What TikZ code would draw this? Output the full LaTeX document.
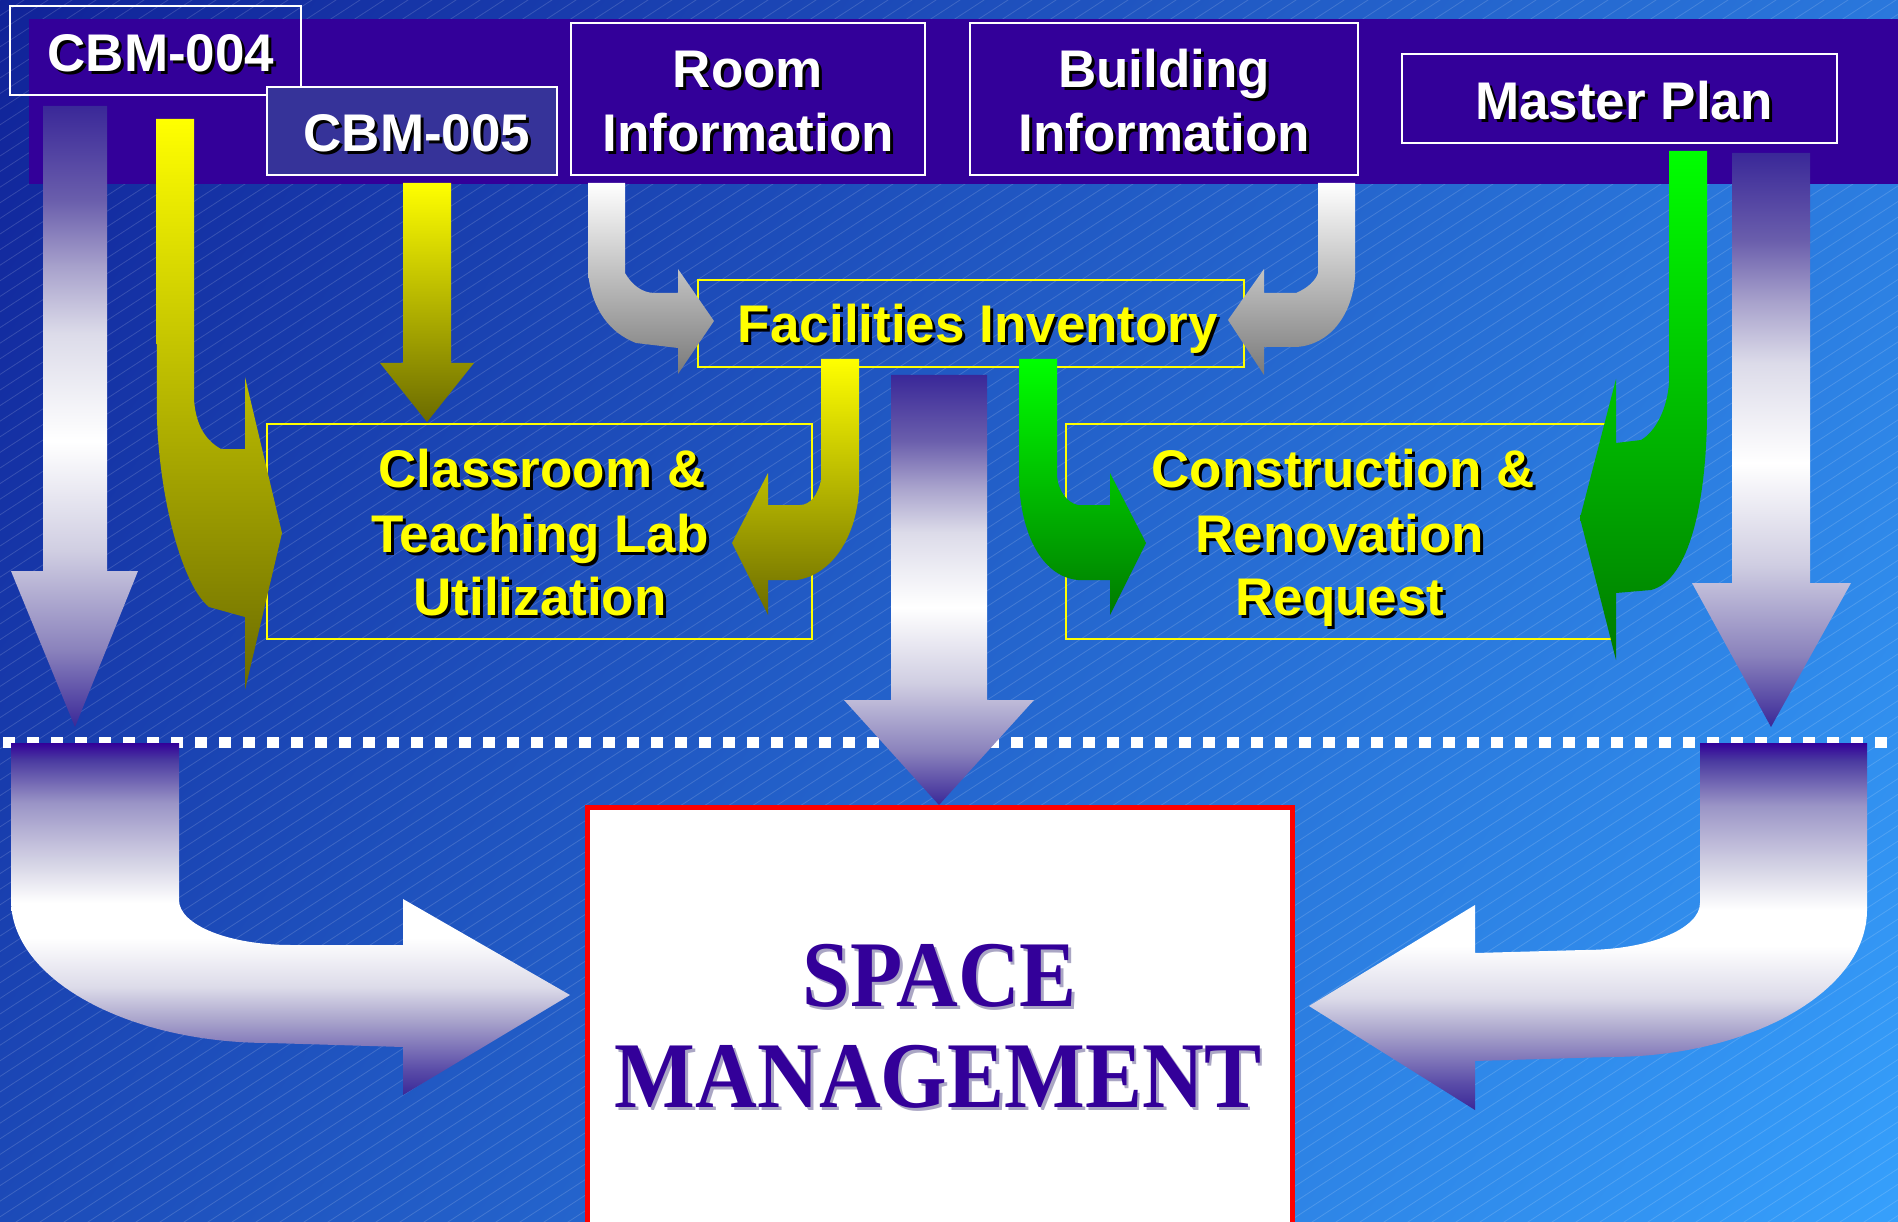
\documentclass[tikz,border=0pt]{standalone}
\usepackage{fontspec}
\setmainfont{Liberation Sans}
\newfontfamily\spacefont{Liberation Serif}
\definecolor{band}{RGB}{51,0,153}
\definecolor{cbmfive}{RGB}{54,51,153}
\definecolor{bgA}{RGB}{16,34,152}
\definecolor{bgB}{RGB}{54,160,252}
\definecolor{ylw}{RGB}{255,255,0}
\definecolor{olv}{RGB}{107,107,0}
\definecolor{grn}{RGB}{0,255,0}
\definecolor{dgrn}{RGB}{0,122,0}
\definecolor{gry}{RGB}{122,122,122}
\definecolor{spc}{RGB}{51,0,153}
\definecolor{sshadow}{RGB}{170,166,196}
\definecolor{pa}{RGB}{58,40,152}
\definecolor{pb}{RGB}{90,76,168}
\definecolor{pc}{RGB}{138,130,188}
\definecolor{pd}{RGB}{170,165,204}
\definecolor{pe}{RGB}{208,206,226}
\definecolor{pf}{RGB}{220,219,233}
\definecolor{pg}{RGB}{154,148,198}
\definecolor{ph}{RGB}{168,162,204}
\definecolor{pi}{RGB}{106,94,172}
\definecolor{pj}{RGB}{74,58,160}
\pgfdeclareverticalshading{varr}{100bp}{color(0bp)=(pa); color(25bp)=(pa); color(31.2bp)=(pc); color(39.2bp)=(pe); color(48bp)=(white); color(56.7bp)=(pf); color(62bp)=(ph); color(67.4bp)=(pi); color(75bp)=(pa); color(100bp)=(pa)}
\pgfdeclareverticalshading{varc}{100bp}{color(0bp)=(pa); color(25bp)=(pa); color(28.6bp)=(pb); color(35.7bp)=(pd); color(40.3bp)=(pf); color(47.4bp)=(white); color(52.3bp)=(white); color(57bp)=(pf); color(66.5bp)=(pg); color(72.6bp)=(pj); color(75bp)=(band); color(100bp)=(band)}
\newcommand{\shd}[2]{\makebox[0pt][l]{\hspace*{3pt}\raisebox{-3pt}{\textcolor{#1}{#2}}}#2}
\begin{document}
\begin{tikzpicture}[x=1pt,y=-1pt,
  wbox/.style={draw=white, line width=2.2pt, inner sep=0pt},
  ybox/.style={draw=ylw, line width=2pt, inner sep=0pt},
  lbl/.style={inner sep=0pt, anchor=base, font=\bfseries\fontsize{53}{64}\selectfont},
  wlbl/.style={lbl, text=white},
  ylbl/.style={lbl, text=ylw},
  slbl/.style={inner sep=0pt, anchor=base, text=spc, font=\spacefont\bfseries\fontsize{94}{100}\selectfont}]
\useasboundingbox (0,0) rectangle (1898,1222);
% background
\begin{scope}
\clip (0,0) rectangle (1898,1222);
\shade[top color=bgA, bottom color=bgB, shading angle=54] (-180,-518) rectangle (2078,1740);
\foreach \c in {0,15.6,...,2500} \draw[white, opacity=0.15, line width=0.8pt] (-50,\c+32.5) -- (1950,\c-1267.5);
\end{scope}
% top band
\fill[band] (29,19) rectangle (1898,184);
% boxes
\node[wbox, minimum width=291pt, minimum height=89pt] (cbm4) at (155.5,50.5) {};
\node[wbox, fill=cbmfive, minimum width=290pt, minimum height=88pt] (cbm5) at (412,131) {};
\node[wbox, minimum width=354pt, minimum height=152pt] (room) at (748,99) {};
\node[wbox, minimum width=388pt, minimum height=152pt] (bldg) at (1164,99) {};
\node[wbox, minimum width=435pt, minimum height=89pt] (mplan) at (1619.5,98.5) {};
\node[ybox, minimum width=546pt, minimum height=87pt] (finv) at (971,323.5) {};
\node[ybox, minimum width=545pt, minimum height=215pt] (class) at (539.5,531.5) {};
\node[ybox, minimum width=545pt, minimum height=215pt] (const) at (1338.5,531.5) {};
\node[draw=red, fill=white, line width=5pt, inner sep=0pt, minimum width=704.5pt, minimum height=432.5pt] (space) at (939.75,1023.75) {};
% labels
\node[wlbl] (t1) at (161,72) {\shd{black}{CBM-004}};
\node[wlbl] (t2) at (417,152) {\shd{black}{CBM-005}};
\node[wlbl] (t3) at (748,88) {\shd{black}{Room}};
\node[wlbl] (t4) at (748,152) {\shd{black}{Information}};
\node[wlbl] (t5) at (1164,88) {\shd{black}{Building}};
\node[wlbl] (t6) at (1164,152) {\shd{black}{Information}};
\node[wlbl] (t7) at (1624,120) {\shd{black}{Master Plan}};
\node[ylbl] (t8) at (978,343) {\shd{black}{Facilities Inventory}};
\node[ylbl] (t9) at (542,487) {\shd{black}{Classroom \&}};
\node[ylbl] (t10) at (540,552) {\shd{black}{Teaching Lab}};
\node[ylbl] (t11) at (540,615) {\shd{black}{Utilization}};
\node[ylbl] (t12) at (1343,487) {\shd{black}{Construction \&}};
\node[ylbl] (t13) at (1340,552) {\shd{black}{Renovation}};
\node[ylbl] (t14) at (1340,615) {\shd{black}{Request}};
\node[slbl] (t15) at (940,1006) {\scalebox{0.91}[1]{\shd{sshadow}{SPACE}}};
\node[slbl] (t16) at (938,1107) {\scalebox{0.91}[1]{\shd{sshadow}{MANAGEMENT}}};
% dashed separator
\coordinate (dl) at (3,742.5);
\coordinate (dr) at (1898,742.5);
\draw[white, line width=11pt, dash pattern=on 12pt off 12pt] (dl) -- (dr);
% straight purple arrows
\shade[shading=varr] (43,106) -- (107,106) -- (107,571) -- (138,571) -- (75,727) -- (11,571) -- (43,571) -- cycle;
\shade[shading=varr] (1732,153) -- (1810,153) -- (1810,583) -- (1851,583) -- (1771,727) -- (1692,583) -- (1732,583) -- cycle;
\shade[shading=varr] (891,375) -- (987,375) -- (987,700) -- (1034,700) -- (939,805) -- (844,700) -- (891,700) -- cycle;
% yellow arrows
\shade[top color=ylw, bottom color=olv] (403,183) -- (451,183) -- (451,363) -- (474,363) -- (427,422) -- (380,363) -- (403,363) -- cycle;
\shade[top color=ylw, middle color=ylw!80!olv, bottom color=olv] (156,119) -- (157,420) .. controls (160,500) and (182,585) .. (209,607) -- (245,617) -- (245,690) -- (282,533) -- (245,377) -- (245,449) -- (221,449) .. controls (205,440) and (196,425) .. (194,400) -- (194,119) -- cycle;
\shade[top color=ylw, bottom color=olv] (821,359) -- (821,480) .. controls (818,495) and (810,505) .. (800,505) -- (768,505) -- (768,473) -- (732,543) -- (768,615) -- (768,580) -- (797,580) .. controls (830,575) and (856,540) .. (859,490) -- (859,359) -- cycle;
% green arrows
\shade[top color=grn, bottom color=dgrn] (1019,359) -- (1019,483) .. controls (1022,540) and (1045,577) .. (1078,580) -- (1110,580) -- (1110,615) -- (1146,543) -- (1110,473) -- (1110,505) -- (1078,505) .. controls (1068,503) and (1058,492) .. (1057,475) -- (1057,359) -- cycle;
\shade[top color=grn, bottom color=dgrn] (1669,151) -- (1669,383) .. controls (1667,410) and (1655,432) .. (1641,440) -- (1616,443) -- (1616,379) -- (1580,518) -- (1616,660) -- (1616,593) -- (1651,590) .. controls (1690,580) and (1706,500) .. (1707,417) -- (1707,151) -- cycle;
% gray arrows
\shade[top color=white, bottom color=gry] (588,183) -- (625,183) -- (625,273) .. controls (632,285) and (642,293) .. (655,293) -- (678,293) -- (678,269) -- (714,321) -- (678,374) -- (678,348) -- (636,343) .. controls (610,333) and (592,310) .. (588,273) -- cycle;
\shade[top color=white, bottom color=gry] (1318,183) -- (1355,183) -- (1355,277) .. controls (1352,315) and (1330,345) .. (1296,347) -- (1264,347) -- (1264,375) -- (1228,320) -- (1264,269) -- (1264,293) -- (1296,293) .. controls (1308,288) and (1316,280) .. (1318,273) -- cycle;
% lower curved arrows
\shade[shading=varc] (11,743) -- (179,743) -- (179,900) .. controls (179,925) and (229,945) .. (291,945) -- (403,945) -- (403,899) -- (570,995) -- (403,1095) -- (403,1047) -- (270,1043) .. controls (127,1043) and (11,979) .. (11,900) -- cycle;
\shade[shading=varc] (1700,743) -- (1867,743) -- (1867,910) .. controls (1867,991) and (1751,1057) .. (1609,1057) -- (1475,1061) -- (1475,1110) -- (1309,1006) -- (1475,905) -- (1475,953) -- (1584,950) .. controls (1648,950) and (1700,929) .. (1700,903) -- cycle;
\end{tikzpicture}
\end{document}
